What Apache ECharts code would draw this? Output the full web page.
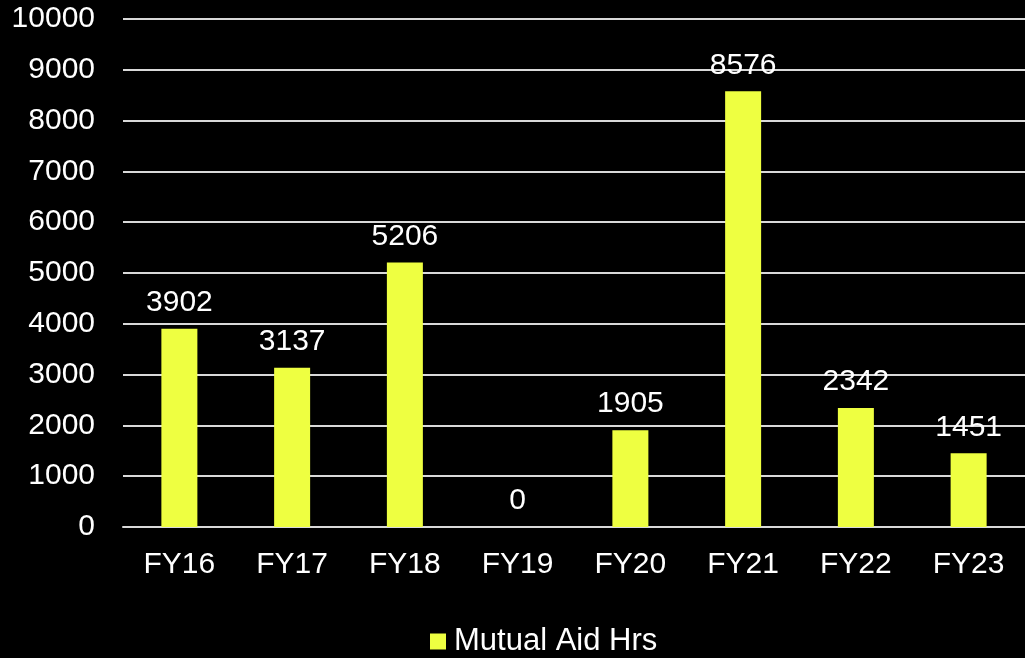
<!DOCTYPE html>
<html>
<head>
<meta charset="utf-8">
<script src="https://cdn.jsdelivr.net/npm/echarts@6/dist/echarts.min.js"></script>
<style>
  html, body { margin: 0; padding: 0; background: #000; }
  #chart { width: 1025px; height: 658px; }
</style>
</head>
<body>
<div id="chart"></div>
<script>
// Mutual aid hours by fiscal year
const categories = ['FY16', 'FY17', 'FY18', 'FY19', 'FY20', 'FY21', 'FY22', 'FY23'];
const mutualAidHrs = [3902, 3137, 5206, 0, 1905, 8576, 2342, 1451];
const seriesName = 'Mutual Aid Hrs';

const FONT = 'Liberation Sans, Arial, sans-serif';
const FS = 30;
const chart = echarts.init(document.getElementById('chart'));

chart.setOption({
  backgroundColor: '#000000',
  animation: false,
  grid: { left: 123, right: -8, top: 19, bottom: 131, containLabel: false },
  legend: {
    data: [seriesName],
    left: 430,
    top: 626,
    padding: 0,
    itemWidth: 16,
    itemHeight: 16,
    icon: 'rect',
    textStyle: { color: '#ffffff', fontSize: 31, fontFamily: FONT, padding: [4, 0, 0, 3] }
  },
  xAxis: {
    type: 'category',
    data: categories,
    axisLine: { show: true, lineStyle: { color: '#d9d9d9', width: 2 } },
    axisTick: { show: false },
    axisLabel: { color: '#ffffff', fontSize: FS, fontFamily: FONT, margin: 23 }
  },
  yAxis: {
    type: 'value',
    min: 0,
    max: 10000,
    interval: 1000,
    axisLine: { show: false },
    axisTick: { show: false },
    axisLabel: {
      color: '#ffffff', fontSize: FS, fontFamily: FONT, margin: 28,
      formatter: (v) => String(v)
    },
    splitLine: { lineStyle: { color: '#d9d9d9', width: 2 } }
  },
  series: [{
    name: seriesName,
    type: 'bar',
    data: mutualAidHrs,
    barWidth: 36,
    itemStyle: { color: '#EEFF41' },
    label: {
      show: true,
      position: 'top',
      distance: 11,
      color: '#ffffff',
      fontSize: FS,
      fontFamily: FONT
    }
  }]
});
</script>
</body>
</html>
